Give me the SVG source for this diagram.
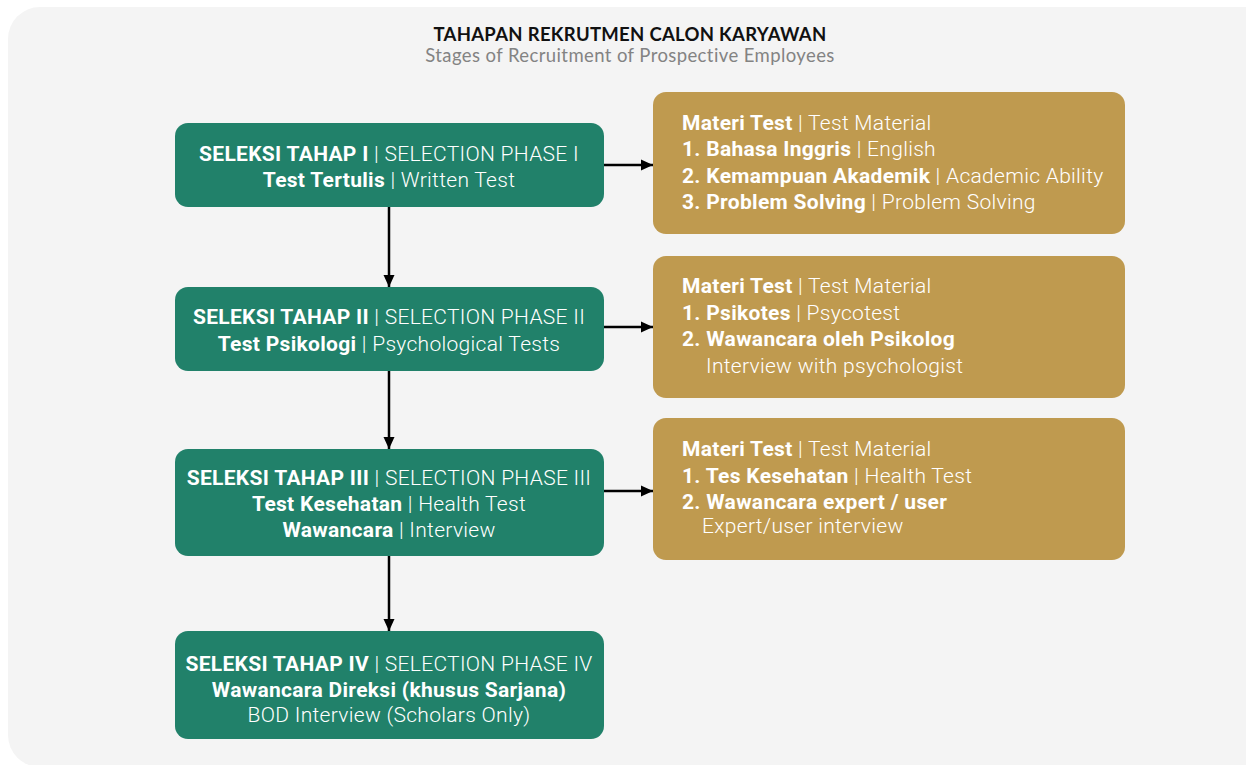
<svg xmlns="http://www.w3.org/2000/svg" width="1246" height="765" viewBox="0 0 1246 765">
  <style>
    .panel { fill: #f4f4f4; }
    .stage { fill: #21816a; }
    .material { fill: #bf9a4f; }
    .t { font-family: Roboto, "Liberation Sans", sans-serif; font-size: 21px; letter-spacing: 0.3px; fill: #ffffff; }
    .c { text-anchor: middle; }
    .b { font-weight: 700; }
    .l { font-weight: 300; }
    .title { font-family: Lato, "Liberation Sans", sans-serif; font-size: 18.5px; font-weight: 700; letter-spacing: 0.3px; fill: #111111; text-anchor: middle; }
    .subtitle { font-family: Lato, "Liberation Sans", sans-serif; font-size: 18.5px; letter-spacing: 0.4px; fill: #838383; text-anchor: middle; }
    .conn { stroke: #000000; stroke-width: 2.5; fill: none; marker-end: url(#arrow); }
  </style>
  <defs>
    <marker id="arrow" viewBox="0 0 12 12" refX="12" refY="6" markerWidth="12" markerHeight="12" markerUnits="userSpaceOnUse" orient="auto">
      <path d="M0,0.5 L12,6 L0,11.5 z" fill="#000000"/>
    </marker>
  </defs>
  <rect width="1246" height="765" fill="#ffffff"/>
  <rect class="panel" x="8" y="7" width="1270" height="760" rx="32"/>

  <g id="heading">
    <text class="title" x="630" y="41">TAHAPAN REKRUTMEN CALON KARYAWAN</text>
    <text class="subtitle" x="630" y="62">Stages of Recruitment of Prospective Employees</text>
  </g>

  <g id="connectors">
    <path class="conn" d="M389,207 V287"/>
    <path class="conn" d="M389,371 V449"/>
    <path class="conn" d="M389,556 V631"/>
    <path class="conn" d="M604,165 H653"/>
    <path class="conn" d="M604,327 H653"/>
    <path class="conn" d="M604,491 H653"/>
  </g>

  <g id="stage1">
    <rect class="stage" x="175" y="123" width="429" height="84" rx="13"/>
    <text class="t c" x="389" y="161"><tspan class="b">SELEKSI TAHAP I</tspan><tspan class="l"> | SELECTION PHASE I</tspan></text>
    <text class="t c" x="389" y="187"><tspan class="b">Test Tertulis</tspan><tspan class="l"> | Written Test</tspan></text>
  </g>

  <g id="stage2">
    <rect class="stage" x="175" y="287" width="429" height="84" rx="13"/>
    <text class="t c" x="389" y="324"><tspan class="b">SELEKSI TAHAP II</tspan><tspan class="l"> | SELECTION PHASE II</tspan></text>
    <text class="t c" x="389" y="351"><tspan class="b">Test Psikologi</tspan><tspan class="l"> | Psychological Tests</tspan></text>
  </g>

  <g id="stage3">
    <rect class="stage" x="175" y="449" width="429" height="107" rx="13"/>
    <text class="t c" x="389" y="485"><tspan class="b">SELEKSI TAHAP III</tspan><tspan class="l"> | SELECTION PHASE III</tspan></text>
    <text class="t c" x="389" y="511"><tspan class="b">Test Kesehatan</tspan><tspan class="l"> | Health Test</tspan></text>
    <text class="t c" x="389" y="537"><tspan class="b">Wawancara</tspan><tspan class="l"> | Interview</tspan></text>
  </g>

  <g id="stage4">
    <rect class="stage" x="175" y="631" width="429" height="108" rx="13"/>
    <text class="t c" x="389" y="671"><tspan class="b">SELEKSI TAHAP IV</tspan><tspan class="l"> | SELECTION PHASE IV</tspan></text>
    <text class="t c b" x="389" y="697">Wawancara Direksi (khusus Sarjana)</text>
    <text class="t c l" x="389" y="722">BOD Interview (Scholars Only)</text>
  </g>

  <g id="material1">
    <rect class="material" x="653" y="92" width="472" height="142" rx="13"/>
    <text class="t" x="682" y="130"><tspan class="b">Materi Test</tspan><tspan class="l"> | Test Material</tspan></text>
    <text class="t" x="682" y="156"><tspan class="b">1. Bahasa Inggris</tspan><tspan class="l"> | English</tspan></text>
    <text class="t" x="682" y="183"><tspan class="b">2. Kemampuan Akademik</tspan><tspan class="l"> | Academic Ability</tspan></text>
    <text class="t" x="682" y="209"><tspan class="b">3. Problem Solving</tspan><tspan class="l"> | Problem Solving</tspan></text>
  </g>

  <g id="material2">
    <rect class="material" x="653" y="256" width="472" height="142" rx="13"/>
    <text class="t" x="682" y="293"><tspan class="b">Materi Test</tspan><tspan class="l"> | Test Material</tspan></text>
    <text class="t" x="682" y="320"><tspan class="b">1. Psikotes</tspan><tspan class="l"> | Psycotest</tspan></text>
    <text class="t b" x="682" y="346">2. Wawancara oleh Psikolog</text>
    <text class="t l" x="706" y="373">Interview with psychologist</text>
  </g>

  <g id="material3">
    <rect class="material" x="653" y="418" width="472" height="142" rx="13"/>
    <text class="t" x="682" y="456"><tspan class="b">Materi Test</tspan><tspan class="l"> | Test Material</tspan></text>
    <text class="t" x="682" y="483"><tspan class="b">1. Tes Kesehatan</tspan><tspan class="l"> | Health Test</tspan></text>
    <text class="t b" x="682" y="509">2. Wawancara expert / user</text>
    <text class="t l" x="702" y="533">Expert/user interview</text>
  </g>
</svg>
